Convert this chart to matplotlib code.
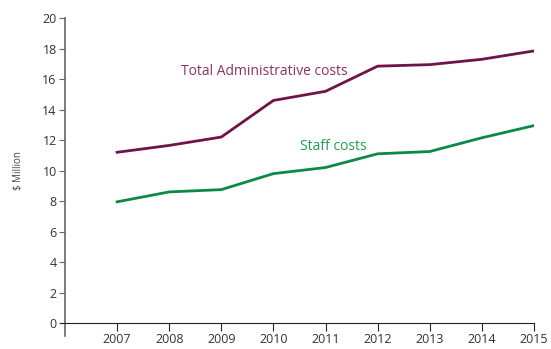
import matplotlib.pyplot as plt

plt.rcParams['font.family'] = ['Open Sans', 'DejaVu Sans']

years = [2007, 2008, 2009, 2010, 2011, 2012, 2013, 2014, 2015]
total_admin = [11.2, 11.65, 12.2, 14.6, 15.2, 16.85, 16.95, 17.3, 17.85]
staff = [7.95, 8.6, 8.75, 9.8, 10.2, 11.1, 11.25, 12.15, 12.95]

maroon = '#6e1446'
green = '#0b8a45'

fig = plt.figure(figsize=(5.51, 3.49), dpi=100)
ax = fig.add_axes([0.118, 0.0745, 0.851, 0.8735])

ax.plot(years, total_admin, color=maroon, linewidth=2)
ax.plot(years, staff, color=green, linewidth=2)

ax.text(2008.23, 16.5, 'Total Administrative costs', color='#8a3264',
        fontsize=10, va='center', ha='left')
ax.text(2010.51, 11.6, 'Staff costs', color='#1f9e52',
        fontsize=10, va='center', ha='left')

ax.set_xlim(2006, 2015)
ax.set_ylim(0, 20)
ax.set_xticks(years)
ax.set_yticks(range(0, 21, 2))

for s in ['top', 'right']:
    ax.spines[s].set_visible(False)
ax.spines['left'].set_color('#666666')
ax.spines['left'].set_linewidth(1.2)
ax.spines['left'].set_bounds(-0.85, 20)
ax.spines['bottom'].set_color('#222222')
ax.spines['bottom'].set_bounds(2005.9, 2015)

ax.tick_params(axis='y', direction='out', length=4, color='#666666',
               labelsize=9, labelcolor='#333333', pad=2)
ax.tick_params(axis='x', direction='out', length=6, color='#222222',
               labelsize=9, labelcolor='#333333', pad=1)

ax.set_ylabel('$ Million', fontsize=7, color='#444444', labelpad=13)

fig.savefig('out.png', dpi=100)
